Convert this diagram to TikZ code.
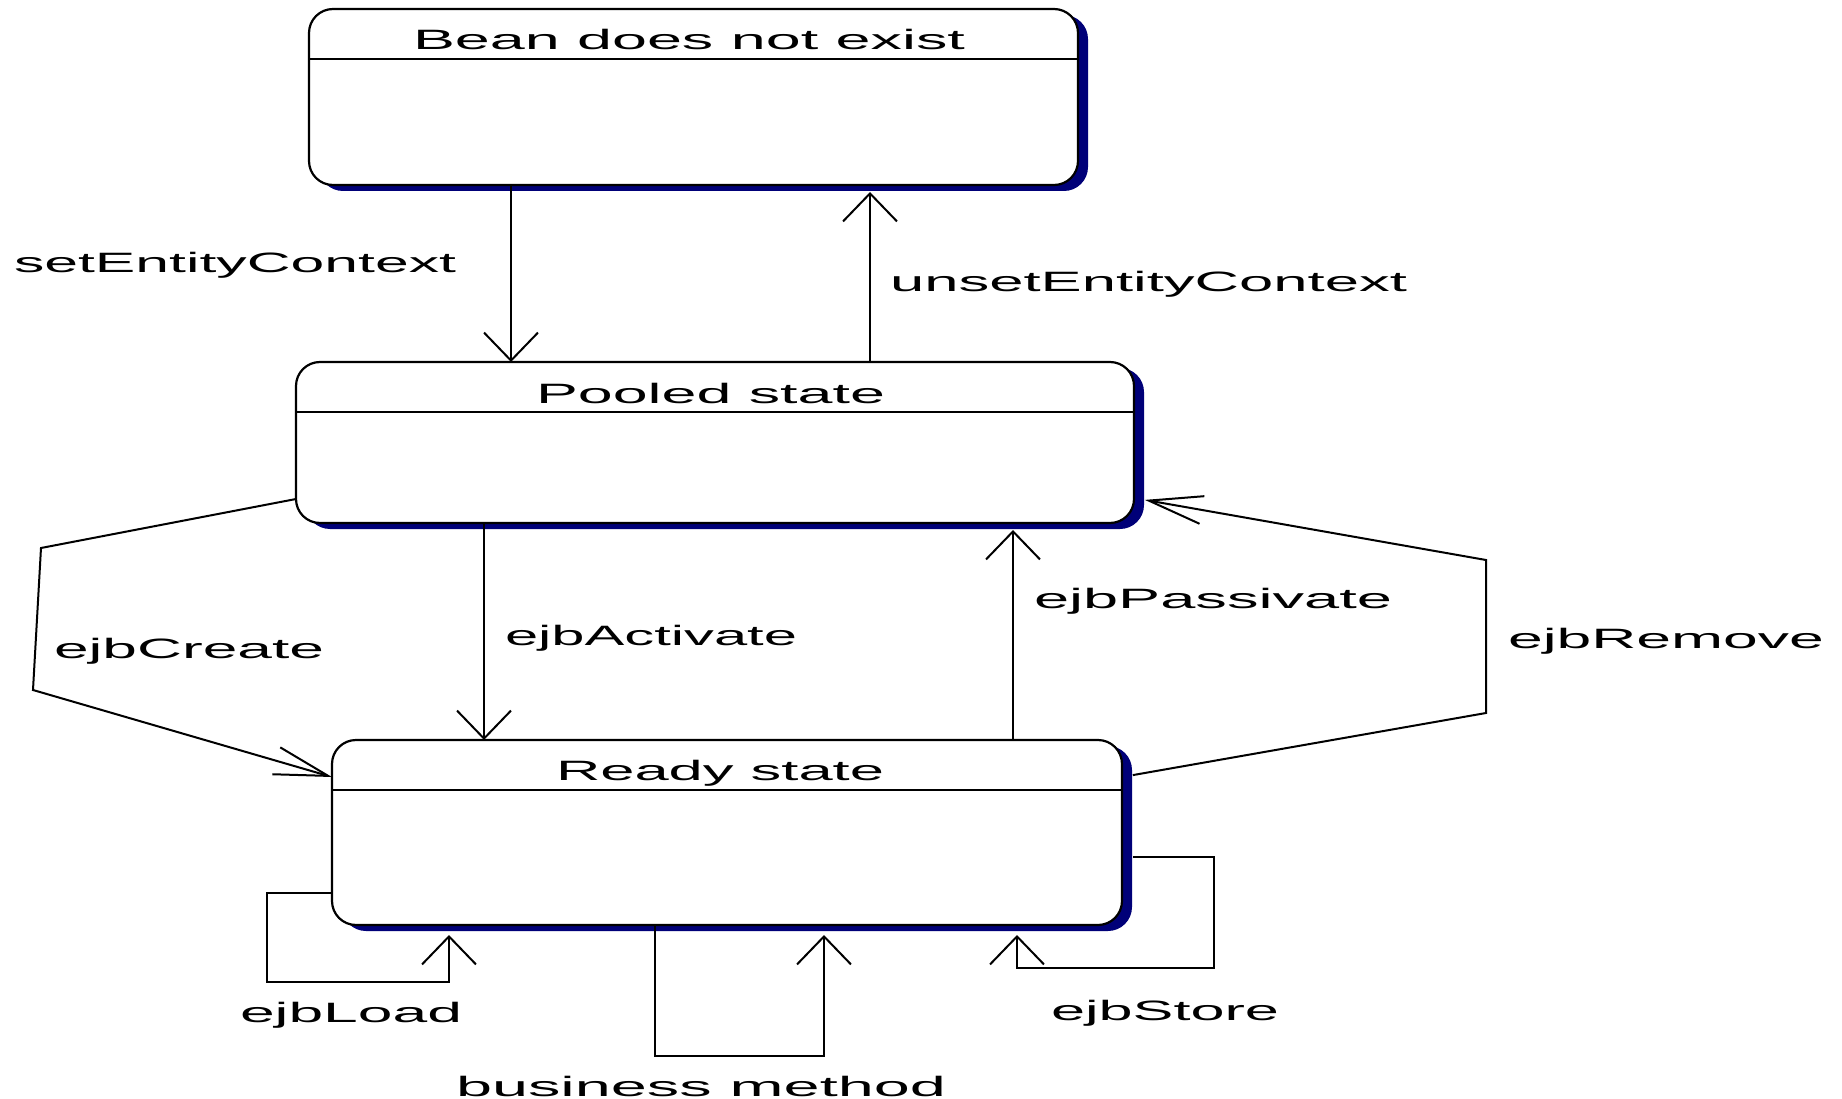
\documentclass[tikz,border=0pt]{standalone}
\usepackage{fontspec}
\usepackage{graphicx}
\setmainfont{Liberation Sans}
\usetikzlibrary{arrows.meta,shadows}
\definecolor{shadowblue}{RGB}{0,0,120}
% set a label at a fixed printed width, keeping its natural height
\newcommand{\fitlabel}[2]{\resizebox{#1pt}{\height}{#2}}

\begin{document}
\begin{tikzpicture}[x=1pt,y=-1pt,
  state/.style={draw=black, line width=2.2pt, fill=white, rounded corners=24pt,
    inner sep=0pt, outer sep=0pt,
    general shadow={fill=shadowblue, shadow xshift=10pt, shadow yshift=-6pt}},
  divider/.style={line width=2pt},
  lbl/.style={anchor=base west, inner sep=0pt, outer sep=0pt,
    font=\fontsize{28}{30}\selectfont},
  arr/.style={line width=2pt,
    -{Straight Barb[length=28pt,width=54pt,line width=2pt]}},
  slantarr/.style={line width=2pt,
    -{Straight Barb[length=54pt,width=28pt,line width=2pt]}}]

\useasboundingbox (0,0) rectangle (1842,1099);
\fill[white] (0,0) rectangle (1842,1099);

% states
\node[state, minimum width=769pt, minimum height=176pt] (bean)  at (693.5,97)  {};
\node[state, minimum width=838pt, minimum height=161pt] (pool)  at (715,442.5) {};
\node[state, minimum width=790pt, minimum height=185pt] (ready) at (727,832.5) {};

% title compartments
\draw[divider] ([yshift=-50pt]bean.north west)  -- ([yshift=-50pt]bean.north east);
\draw[divider] ([yshift=-50pt]pool.north west)  -- ([yshift=-50pt]pool.north east);
\draw[divider] ([yshift=-50pt]ready.north west) -- ([yshift=-50pt]ready.north east);

\node[lbl] (beanT)  at (413,50)  {\fitlabel{552}{Bean does not exist}};
\node[lbl] (poolT)  at (536,403) {\fitlabel{349}{Pooled state}};
\node[lbl] (readyT) at (556,780) {\fitlabel{328}{Ready state}};

% column positions of the vertical transitions
\coordinate (c1) at (511,0);
\coordinate (c2) at (870,0);
\coordinate (c3) at (484,0);
\coordinate (c4) at (1013,0);

\draw[arr] (bean.south -| c1) -- (pool.north -| c1);
\draw[arr, shorten >=7pt] (pool.north -| c2) -- (bean.south -| c2);
\draw[arr] (pool.south -| c3) -- (ready.north -| c3);
\draw[arr, shorten >=7pt] (ready.north -| c4) -- (pool.south -| c4);

\node[lbl] (setL)   at (14,273)  {\fitlabel{442}{setEntityContext}};
\node[lbl] (unsetL) at (890,292) {\fitlabel{517}{unsetEntityContext}};
\node[lbl] (actL)   at (505,645) {\fitlabel{292}{ejbActivate}};
\node[lbl] (pasL)   at (1034,608) {\fitlabel{358}{ejbPassivate}};

% ejbCreate: around the left side
\coordinate (cr1) at (41,548);
\coordinate (cr2) at (33,690);
\draw[slantarr] ([yshift=24pt]pool.south west) -- (cr1) -- (cr2) -- ([yshift=-37pt]ready.north west);
\node[lbl] (createL) at (54,658) {\fitlabel{270}{ejbCreate}};

% ejbRemove: around the right side
\coordinate (rm1) at (1486,713);
\coordinate (rm2) at (1486,560);
\draw[slantarr, shorten <=11pt, shorten >=11pt] ([yshift=-37pt]ready.north east) -- (rm1) -- (rm2) -- ([yshift=25pt]pool.south east);
\node[lbl] (removeL) at (1508,648) {\fitlabel{316}{ejbRemove}};

% self transitions on the ready state
\coordinate (ld1) at (267,982);
\coordinate (ld2) at (449,982);
\draw[arr, shorten >=10pt] ([yshift=-153pt]ready.north west) -| (ld1) -- (ld2) -- (ready.south -| ld2);
\node[lbl] (loadL) at (240,1022) {\fitlabel{222}{ejbLoad}};

\coordinate (bm1) at (655,1056);
\coordinate (bm2) at (824,1056);
\draw[arr, shorten >=10pt] (ready.south -| bm1) -- (bm1) -- (bm2) -- (ready.south -| bm2);
\node[lbl] (busL) at (456,1096) {\fitlabel{490}{business method}};

\coordinate (st1) at (1214,968);
\coordinate (st2) at (1017,968);
\draw[arr, shorten <=11pt, shorten >=10pt] ([yshift=-117pt]ready.north east) -| (st1) -- (st2) -- (ready.south -| st2);
\node[lbl] (storeL) at (1051,1020) {\fitlabel{228}{ejbStore}};

\end{tikzpicture}
\end{document}
